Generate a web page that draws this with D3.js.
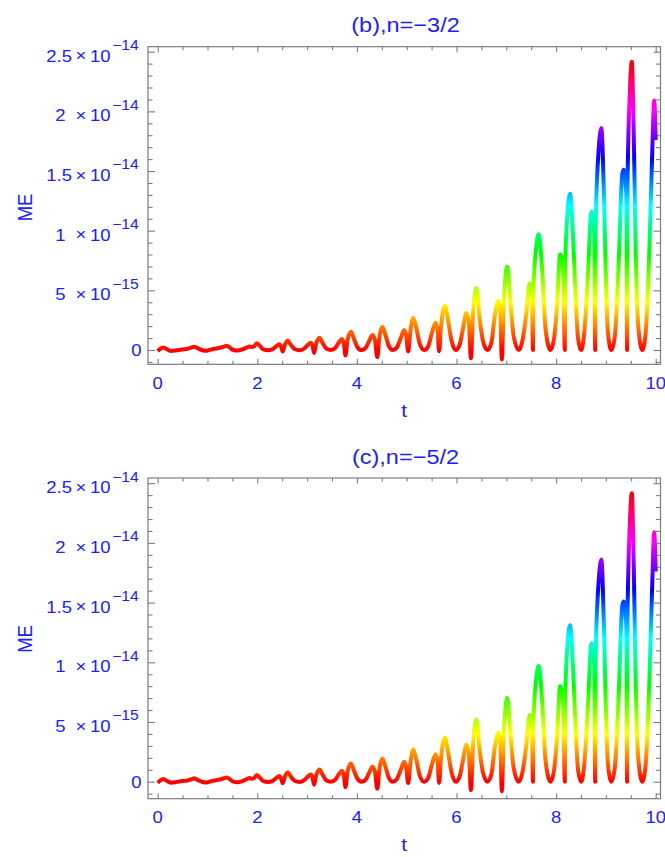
<!DOCTYPE html>
<html><head><meta charset="utf-8">
<script src="https://cdn.jsdelivr.net/npm/d3@7"></script>
<style>body{margin:0;background:#fff}svg{display:block}</style>
</head><body>
<script>
// time values t
const tValues = [
0.00,0.05,0.11,0.18,0.26,0.36,0.48,0.60,0.68,0.73,0.80,0.90,0.98,1.08,1.20,1.30,1.39,1.45,1.52,1.60,
1.70,1.78,1.84,1.89,1.93,1.99,2.05,2.12,2.22,2.32,2.39,2.44,2.48,2.51,2.55,2.61,2.67,2.75,2.85,2.95,
3.02,3.07,3.11,3.14,3.18,3.25,3.31,3.39,3.48,3.57,3.64,3.70,3.74,3.77,3.81,3.88,3.94,4.01,4.09,4.17,
4.25,4.31,4.36,4.41,4.45,4.51,4.57,4.64,4.72,4.80,4.88,4.95,4.99,5.03,5.07,5.13,5.19,5.26,5.35,5.43,
5.51,5.58,5.62,5.65,5.69,5.77,5.83,5.90,5.98,6.06,6.13,6.20,6.25,6.29,6.33,6.40,6.46,6.53,6.62,6.70,
6.77,6.84,6.88,6.91,6.95,7.02,7.08,7.15,7.25,7.33,7.40,7.47,7.515,7.535,7.545,7.60,7.65,7.72,7.79,7.89,
7.96,8.02,8.08,8.14,8.175,8.185,8.23,8.28,8.34,8.40,8.44,8.50,8.56,8.63,8.71,8.765,8.785,8.795,8.85,8.91,8.96,
9.00,9.04,9.11,9.18,9.25,9.33,9.36,9.41,9.425,9.435,9.48,9.52,9.56,9.60,9.65,9.73,9.80,9.87,9.93,9.97,10.00
];
// ME values, in units of 1e-15 (same curve in both panels)
const meValues = [
-0.10,0.10,0.22,0.08,-0.08,-0.04,0.05,0.10,0.22,0.28,0.15,-0.02,-0.06,0.05,0.15,0.25,0.35,0.20,0.00,-0.05,
0.05,0.20,0.30,0.25,0.28,0.56,0.35,0.05,-0.02,0.10,0.35,0.48,0.25,-0.12,0.40,0.80,0.45,0.08,-0.02,0.15,
0.45,0.60,0.35,-0.25,0.50,1.03,0.60,0.10,0.00,0.20,0.65,0.92,0.50,-0.45,0.80,1.52,0.95,0.25,0.00,0.15,
0.80,1.26,0.90,-0.60,1.00,1.95,1.30,0.35,0.00,0.20,1.00,1.67,1.20,-0.12,1.40,2.70,1.90,0.55,0.00,0.30,
1.50,2.29,1.70,-0.10,2.00,3.70,2.50,0.80,0.00,0.40,1.80,3.10,2.30,-0.70,2.80,5.20,2.80,0.80,0.00,0.60,
2.90,4.10,3.20,-0.80,4.00,7.00,4.20,1.10,0.00,0.90,3.00,5.60,4.80,0.00,5.00,8.60,9.70,6.80,1.70,0.00,
1.00,3.80,8.00,6.80,0.00,7.40,11.50,13.10,9.50,3.80,1.00,0.00,1.20,5.50,11.60,9.80,0.00,10.50,16.50,18.60,13.00,
6.00,1.50,0.00,1.20,6.50,14.80,15.10,13.00,0.00,14.00,21.50,24.15,18.00,8.00,2.00,0.00,1.50,8.00,16.50,20.90,17.60
];
const panelTitles = ["(b),n=\u22123/2", "(c),n=\u22125/2"];
const xTickValues = [0, 2, 4, 6, 8, 10];
const xTickLabels = ["0", "2", "4", "6", "8", "10"];
const yTickValues = [0, 5e-15, 1e-14, 1.5e-14, 2e-14, 2.5e-14];
const yTickMantissa = ["0", "5", "1", "1.5", "2", "2.5"];
const yTickExponent = ["", "\u221215", "\u221214", "\u221214", "\u221214", "\u221214"];
const xLabel = "t", yLabel = "ME";

const W = 665, H = 857;
const blue = "#2020ff", frameCol = "#7d7d7d";
const SX = 1.12;
const FONT = "'Liberation Sans', Arial, sans-serif";

const svg = d3.select("body").append("svg").attr("width", W).attr("height", H);
const defs = svg.append("defs");

const data = tValues.map((t, i) => ({t: t, v: meValues[i] * 1e-15}));
const vMax = d3.max(data, d => d.v);

const x = d3.scaleLinear().domain([0, 10]).range([157.7, 655.7]);
const frameL = 148, frameR = 660.5;

const panels = [
  {title: panelTitles[0], top: 46.7, bottom: 364.3, y0: 350, y25: 51.7, titleY: 31.7, off: 0},
  {title: panelTitles[1], top: 478, bottom: 798.7, y0: 781.7, y25: 483.2, titleY: 463.5, off: 431.5}
];

function txt(g, px, py, str, size, anchor) {
  return g.append("text")
    .attr("transform", `translate(${px},${py}) scale(${SX},1)`)
    .attr("text-anchor", anchor)
    .attr("font-size", size)
    .attr("font-family", FONT)
    .attr("fill", blue)
    .text(str);
}

panels.forEach((p, pi) => {
  const g = svg.append("g");
  const y = d3.scaleLinear().domain([0, 2.5e-14]).range([p.y0, p.y25]);

  // gradient colouring by value (Hue colour function)
  const gid = "grad" + pi;
  const grad = defs.append("linearGradient").attr("id", gid)
    .attr("gradientUnits", "userSpaceOnUse")
    .attr("x1", 0).attr("x2", 0).attr("y1", y(0)).attr("y2", y(vMax));
  d3.range(0, 25).forEach(k => {
    const f = k / 24;
    grad.append("stop").attr("offset", f).attr("stop-color", d3.hsl(360 * f, 1, 0.5).formatHex());
  });

  // frame
  g.append("rect").attr("x", frameL).attr("y", p.top)
    .attr("width", frameR - frameL).attr("height", p.bottom - p.top)
    .attr("fill", "none").attr("stroke", frameCol).attr("stroke-width", 1.2);

  // ticks
  const xMinor = d3.range(0, 10.001, 0.5).filter(v => v % 2 !== 0);
  const yMinorAll = d3.range(-1, 25.5, 1).map(v => v * 1e-15).filter(v => y(v) < p.bottom - 1 && y(v) > p.top + 1);
  const yMinor = yMinorAll.filter(v => Math.abs((v / 5e-15) - Math.round(v / 5e-15)) > 1e-6);

  const styleAxis = sel => {
    sel.select(".domain").remove();
    sel.selectAll(".tick line").attr("stroke", frameCol).attr("stroke-width", 1.1);
    sel.selectAll(".tick text").remove();
  };
  g.append("g").attr("transform", `translate(0,${p.bottom})`)
    .call(d3.axisBottom(x).tickValues(xTickValues).tickSizeInner(-5.5).tickSizeOuter(0)).call(styleAxis);
  g.append("g").attr("transform", `translate(0,${p.bottom})`)
    .call(d3.axisBottom(x).tickValues(xMinor).tickSizeInner(-3.5).tickSizeOuter(0)).call(styleAxis);
  g.append("g").attr("transform", `translate(0,${p.top})`)
    .call(d3.axisTop(x).tickValues(xTickValues).tickSizeInner(-5.5).tickSizeOuter(0)).call(styleAxis);
  g.append("g").attr("transform", `translate(0,${p.top})`)
    .call(d3.axisTop(x).tickValues(xMinor).tickSizeInner(-3.5).tickSizeOuter(0)).call(styleAxis);
  g.append("g").attr("transform", `translate(${frameL},0)`)
    .call(d3.axisLeft(y).tickValues(yTickValues).tickSizeInner(-7).tickSizeOuter(0)).call(styleAxis);
  g.append("g").attr("transform", `translate(${frameL},0)`)
    .call(d3.axisLeft(y).tickValues(yMinor).tickSizeInner(-4.5).tickSizeOuter(0)).call(styleAxis);
  g.append("g").attr("transform", `translate(${frameR},0)`)
    .call(d3.axisRight(y).tickValues(yTickValues).tickSizeInner(-7).tickSizeOuter(0)).call(styleAxis);
  g.append("g").attr("transform", `translate(${frameR},0)`)
    .call(d3.axisRight(y).tickValues(yMinor).tickSizeInner(-4.5).tickSizeOuter(0)).call(styleAxis);

  // x tick labels
  xTickValues.forEach((v, i) => txt(g, x(v), p.bottom + 24.2, xTickLabels[i], 16.5, "middle"));

  // y tick labels
  yTickValues.forEach((v, i) => {
    const ty = y(v);
    const m = yTickMantissa[i], e = yTickExponent[i];
    if (e === "") {
      txt(g, 141.5, ty + 6, m, 16.5, "end");
    } else {
      txt(g, m.indexOf(".") >= 0 ? 72 : 65.5, ty + 10, m, 16.5, "end");
      txt(g, 81, ty + 9.7, "\u00d7", 16.5, "middle");
      txt(g, 110.5, ty + 10, "10", 16.5, "end");
      txt(g, 138.8, ty - 1.7, e, 14, "end");
    }
  });

  // curve
  const line = d3.line().x(d => x(d.t)).y(d => y(d.v)).curve(d3.curveMonotoneX);
  g.append("path").datum(data)
    .attr("d", line)
    .attr("fill", "none")
    .attr("stroke", `url(#${gid})`)
    .attr("stroke-width", 4)
    .attr("stroke-linejoin", "round");

  // titles
  txt(g, 405.5, p.titleY, p.title, 21, "middle");
  txt(g, 404, p.bottom + 52.5, xLabel, 18.5, "middle");
  g.append("text")
    .attr("transform", `translate(31.7,${207.5 + p.off}) scale(${SX},1) rotate(-90)`)
    .attr("text-anchor", "middle")
    .attr("font-size", 18.5)
    .attr("font-family", FONT)
    .attr("fill", blue)
    .text(yLabel);
});
</script>
</body></html>
